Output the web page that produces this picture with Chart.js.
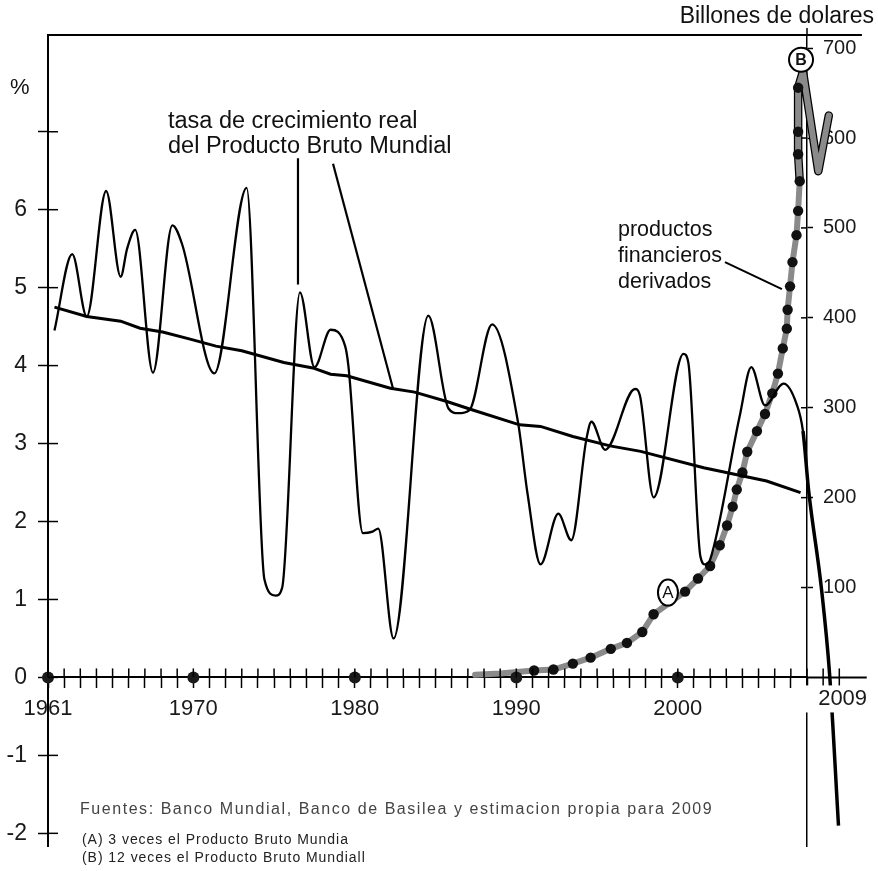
<!DOCTYPE html>
<html><head><meta charset="utf-8">
<script src="https://cdn.jsdelivr.net/npm/chart.js@4.4.1/dist/chart.umd.min.js"></script>
<style>html,body{margin:0;padding:0;background:#fff}canvas{display:block}</style>
</head><body>
<canvas id="c" width="878" height="871" style="width:878px;height:871px"></canvas>
<script>
// ---- data ----
const growthYears  = [1961.4, 1962.5, 1963.4, 1964.6, 1965.5, 1965.9, 1966.4, 1967.5, 1968.7, 1969.3, 1971.3, 1973.3, 1974.4, 1975.1, 1975.5, 1976.6, 1977.5, 1978.5, 1979.4, 1979.6, 1980.5, 1981.1, 1981.45, 1982.4, 1984.55, 1985.8, 1986.4, 1987.1, 1988.5, 1990.1, 1990.7, 1991.5, 1992.6, 1993.4, 1994.35, 1994.65, 1995.5, 1997.35, 1997.65, 1998.5, 2000.35, 2000.65, 2001.4, 2001.7, 2002.0, 2003.85, 2004.55, 2005.4, 2006.55, 2007.35, 2007.75, 2008.1, 2008.9, 2009.4, 2009.95];
const growthValues = [4.45, 5.43, 4.63, 6.24, 5.14, 5.5, 5.74, 3.91, 5.8, 5.56, 3.9, 6.28, 1.26, 1.05, 1.15, 4.94, 3.98, 4.46, 4.25, 4.0, 1.85, 1.87, 1.91, 0.5, 4.64, 3.45, 3.39, 3.43, 4.53, 3.28, 2.35, 1.45, 2.1, 1.76, 3.07, 3.28, 2.92, 3.7, 3.62, 2.31, 4.15, 4.04, 1.55, 1.45, 1.51, 3.37, 3.98, 3.49, 3.77, 3.51, 3.16, 2.4, 1.13, 0.04, -1.9];

const trendYears  = [1961.4, 1963.4, 1965.5, 1966.7, 1968.1, 1969.8, 1971.4, 1973.0, 1975.6, 1977.4, 1978.5, 1979.5, 1982.2, 1983.7, 1985.7, 1987.3, 1990.2, 1991.5, 1993.5, 1995.8, 1997.7, 2001.6, 2005.5, 2007.6];
const trendValues = [4.75, 4.63, 4.57, 4.48, 4.43, 4.34, 4.25, 4.19, 4.04, 3.97, 3.89, 3.87, 3.71, 3.66, 3.54, 3.43, 3.24, 3.22, 3.09, 2.97, 2.9, 2.69, 2.52, 2.37];

const derivYears  = [1987.45, 1989.0, 1991.1, 1992.3, 1993.5, 1994.6, 1995.85, 1996.85, 1997.8, 1998.5, 2000.45, 2001.25, 2002.0, 2002.6, 2003.05, 2003.4, 2003.65, 2004.0, 2004.3, 2004.9, 2005.4, 2005.85, 2006.2, 2006.5, 2006.75, 2006.8, 2006.95, 2007.1, 2007.35, 2007.45, 2007.55, 2007.45, 2007.45, 2007.45, 2007.75, 2008.7, 2009.35];
const derivValues = [3, 4.5, 7.7, 8.8, 15.4, 22, 31.8, 38.4, 50.5, 70.3, 95.5, 110, 124, 147, 169, 190, 209, 228, 251, 274, 293, 316, 338, 366, 388, 409, 435, 462, 492, 519, 552, 582, 607, 656, 674, 563, 625];
const derivDotted = [false, false, true, true, true, true, true, true, true, true, true, true, true, true, true, true, true, true, true, true, true, true, true, true, true, true, true, true, true, true, true, true, true, true, false, false, false];

const axisMarkYears  = [1961, 1970, 1980, 1990, 2000, 2009];
const axisMarkStyles = ['circle', 'circle', 'circle', 'circle', 'circle', 'rect'];

const xLabelYears = [1961, 1970, 1980, 1990, 2000];
const xFirstYear = 1961, xLastYear = 2008;
const leftTicks  = [-2, -1, 0, 1, 2, 3, 4, 5, 6, 7];
const leftUnlabeled = [7];
const rightTicks = [100, 200, 300, 400, 500, 600, 700];

const FONT = "'Liberation Sans', Arial, sans-serif";

function pts(xs, ys) { return xs.map((v, i) => ({x: v, y: ys[i]})); }

const deco = {
  id: 'deco',
  afterDraw(chart) {
    const {ctx, chartArea: ca, scales} = chart;
    const X = v => scales.x.getPixelForValue(v);
    const Y = v => scales.y.getPixelForValue(v);
    const Y1 = v => scales.y1.getPixelForValue(v);
    const line = (a, b, c, d) => { ctx.beginPath(); ctx.moveTo(a, b); ctx.lineTo(c, d); ctx.stroke(); };
    ctx.save();
    ctx.strokeStyle = '#000';
    ctx.fillStyle = '#000';
    // frame top and x axis extension
    ctx.lineWidth = 2;
    line(ca.left - 1, ca.top, X(2011.4), ca.top);
    const y0 = Y(0);
    line(ca.right, y0, X(2011.7), y0);
    // inner halves of ticks
    ctx.lineWidth = 1.5;
    scales.x.ticks.forEach(t => line(X(t.value), y0 - 9, X(t.value), y0));
    [2009, 2010].forEach(v => line(X(v), y0 - 9, X(v), y0 + 10));
    scales.y.ticks.forEach(t => line(ca.left, Y(t.value), ca.left + 10, Y(t.value)));
    scales.y1.ticks.forEach(t => line(ca.right - 6, Y1(t.value), ca.right, Y1(t.value)));
    // right axis stub above frame
    line(ca.right, ca.top - 7, ca.right, ca.top);

    // 2009 label with white background
    ctx.font = '22px ' + FONT;
    ctx.textBaseline = 'middle';
    ctx.textAlign = 'left';
    const lx = X(2009) - 5;
    ctx.fillStyle = '#fff';
    ctx.fillRect(ca.right - 3, y0 + 8, X(2011.7) - ca.right + 3, 27);
    ctx.fillStyle = '#1a1a1a';
    ctx.fillText('2009', lx, y0 + 22);

    // axis titles
    ctx.fillStyle = '#111';
    ctx.font = '22px ' + FONT;
    ctx.textAlign = 'left';
    ctx.fillText('%', 10, 88);
    ctx.font = '23px ' + FONT;
    ctx.textAlign = 'right';
    ctx.fillText('Billones de dolares', 874, 17);

    // annotation: growth
    ctx.textAlign = 'left';
    ctx.textBaseline = 'alphabetic';
    ctx.font = '23.5px ' + FONT;
    ctx.fillText('tasa de crecimiento real', 168, 128);
    ctx.fillText('del Producto Bruto Mundial', 168, 153);
    ctx.lineWidth = 2.2;
    line(X(1976.48), Y(6.66), X(1976.48), Y(5.04));
    line(X(1978.65), Y(6.59), X(1982.36), Y(3.71));

    // annotation: derivatives
    ctx.font = '21.5px ' + FONT;
    ctx.textBaseline = 'middle';
    ctx.fillText('productos', 618, 230);
    ctx.fillText('financieros', 618, 256);
    ctx.fillText('derivados', 618, 282);
    ctx.lineWidth = 2;
    line(X(2002.92), Y1(462), X(2006.45), Y1(432));

    // circled labels
    ctx.lineWidth = 2;
    ctx.textAlign = 'center';
    ctx.font = '17px ' + FONT;
    const ax = X(1999.39), ay = Y1(94.4);
    ctx.beginPath(); ctx.ellipse(ax, ay, 10, 13, 0, 0, Math.PI * 2);
    ctx.fillStyle = '#fff'; ctx.fill(); ctx.stroke();
    ctx.fillStyle = '#111'; ctx.fillText('A', ax, ay + 1);
    const bx = X(2007.63), by = Y1(687);
    ctx.beginPath(); ctx.arc(bx, by, 12, 0, Math.PI * 2);
    ctx.fillStyle = '#fff'; ctx.fill(); ctx.stroke();
    ctx.fillStyle = '#111'; ctx.font = 'bold 16px ' + FONT; ctx.fillText('B', bx, by + 1);

    // footnotes
    ctx.textAlign = 'left';
    ctx.fillStyle = '#444';
    ctx.font = '16px ' + FONT;
    ctx.letterSpacing = '1.55px';
    ctx.fillText('Fuentes: Banco Mundial, Banco de Basilea y estimacion propia para 2009', 80, 810);
    ctx.fillStyle = '#222';
    ctx.font = '14px ' + FONT;
    ctx.letterSpacing = '0.95px';
    ctx.fillText('(A) 3 veces el Producto Bruto Mundia', 82, 840);
    ctx.fillText('(B) 12 veces el Producto Bruto Mundiall', 82, 858);
    ctx.letterSpacing = '0px';
    ctx.restore();
  }
};

const outlineIdx = derivValues.map((v, i) => i).filter(i => derivValues[i] >= 550);

new Chart(document.getElementById('c'), {
  type: 'line',
  data: {
    datasets: [
      { label: 'marks', data: axisMarkYears.map(v => ({x: v, y: 0})), yAxisID: 'y', showLine: false,
        pointRadius: 6, pointStyle: axisMarkStyles, pointBackgroundColor: '#1a1a1a', pointBorderWidth: 0, clip: false, order: 0 },
      { label: 'trend', data: pts(trendYears, trendValues), yAxisID: 'y', borderColor: '#000', borderWidth: 3,
        pointRadius: 0, tension: 0, clip: false, order: 1 },
      { label: 'growth', data: pts(growthYears, growthValues), yAxisID: 'y', borderColor: '#000', borderWidth: 2.3,
        pointRadius: 0, cubicInterpolationMode: 'monotone', clip: false, order: 2,
        segment: { borderWidth: c => (c.p0.parsed.x >= 2007.7 ? 3.5 : 2.3) } },
      { label: 'deriv', data: pts(derivYears, derivValues), yAxisID: 'y1', borderColor: '#8a8a8a', borderWidth: 6,
        borderJoinStyle: 'round', borderCapStyle: 'round',
        pointRadius: derivDotted.map(d => (d ? 5.2 : 0)), pointBackgroundColor: '#111', pointBorderWidth: 0,
        tension: 0, clip: false, order: 3 },
      { label: 'derivOutline', data: outlineIdx.map(i => ({x: derivYears[i], y: derivValues[i]})), yAxisID: 'y1',
        borderColor: '#000', borderWidth: 8.5, borderJoinStyle: 'round', borderCapStyle: 'round',
        pointRadius: 0, tension: 0, clip: false, order: 4 }
    ]
  },
  options: {
    responsive: false,
    animation: false,
    layout: { padding: { top: 35, bottom: 14, left: 0, right: 0 } },
    plugins: { legend: { display: false }, tooltip: { enabled: false } },
    font: { family: FONT },
    scales: {
      x: {
        type: 'linear', position: { y: 0 }, bounds: 'data',
        afterDataLimits: s => { s.min = xFirstYear; s.max = xLastYear; },
        afterBuildTicks: s => {
          const t = [];
          for (let v = xFirstYear; v <= xLastYear; v++) t.push({ value: v });
          s.ticks = t; s.min = xFirstYear; s.max = xLastYear;
        },
        ticks: { autoSkip: false, maxRotation: 0, padding: 8, color: '#1a1a1a', font: { size: 22, family: FONT },
          callback: v => (xLabelYears.includes(v) ? String(v) : '') },
        grid: { drawOnChartArea: false, drawTicks: true, tickLength: 10, tickColor: '#000', tickWidth: 1.5 },
        border: { display: true, color: '#000', width: 2 }
      },
      y: {
        type: 'linear', position: 'left', min: -2.165, max: 8.241,
        afterBuildTicks: s => { s.ticks = leftTicks.map(v => ({ value: v })); },
        afterFit: s => { s.width = 48; },
        ticks: { padding: 11, color: '#1a1a1a', font: { size: 23, family: FONT },
          callback: v => (leftUnlabeled.includes(v) ? '' : String(v)) },
        grid: { drawOnChartArea: false, tickLength: 10, tickColor: '#000', tickWidth: 1.5 },
        border: { display: true, color: '#000', width: 2 }
      },
      y1: {
        type: 'linear', position: 'right', min: -187.7, max: 714.6,
        afterBuildTicks: s => { s.ticks = rightTicks.map(v => ({ value: v })); },
        afterFit: s => { s.width = 71; },
        ticks: { padding: 10, color: '#1a1a1a', font: { size: 20, family: FONT } },
        grid: { drawOnChartArea: false, tickLength: 6, tickColor: '#000', tickWidth: 1.5 },
        border: { display: true, color: '#000', width: 1.5 }
      }
    }
  },
  plugins: [deco]
});
</script>
</body></html>
